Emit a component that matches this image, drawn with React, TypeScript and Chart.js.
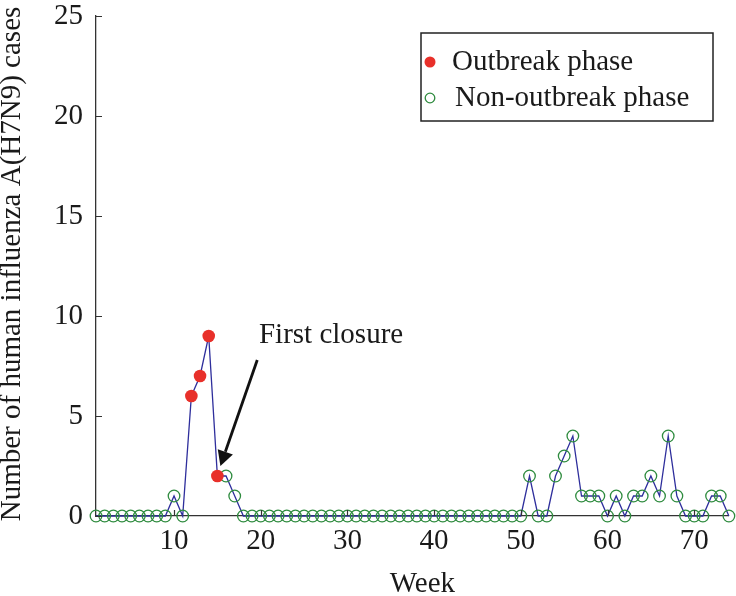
import React, { useEffect, useRef } from "react";
import { Chart, registerables } from "chart.js";

Chart.register(...registerables);

// ---- data ----
const weeks = [
  1, 2, 3, 4, 5, 6, 7, 8, 9, 10, 11, 12, 13, 14, 15, 16, 17, 18, 19, 20, 21, 22, 23, 24, 25,
  26, 27, 28, 29, 30, 31, 32, 33, 34, 35, 36, 37, 38, 39, 40, 41, 42, 43, 44, 45, 46, 47, 48, 49, 50,
  51, 52, 53, 54, 55, 56, 57, 58, 59, 60, 61, 62, 63, 64, 65, 66, 67, 68, 69, 70, 71, 72, 73, 74,
];
const cases = [
  0, 0, 0, 0, 0, 0, 0, 0, 0, 1, 0, 6, 7, 9, 2, 2, 1, 0, 0, 0, 0, 0, 0, 0, 0,
  0, 0, 0, 0, 0, 0, 0, 0, 0, 0, 0, 0, 0, 0, 0, 0, 0, 0, 0, 0, 0, 0, 0, 0, 0,
  2, 0, 0, 2, 3, 4, 1, 1, 1, 0, 1, 0, 1, 1, 2, 1, 4, 1, 0, 0, 0, 1, 1, 0,
];
const outbreakWeeks = [12, 13, 14, 15];
const xTickValues = [10, 20, 30, 40, 50, 60, 70];
const yTickValues = [0, 5, 10, 15, 20, 25];
const seriesNames = ["Outbreak phase", "Non-outbreak phase"];
const xTitle = "Week";
const yTitle = "Number of human influenza A(H7N9) cases";
const annotationText = "First closure";
const annotationLabelAt = { x: 19.8, y: 8.65 };
const annotationArrowFrom = { x: 19.6, y: 7.8 };
const annotationArrowTo = { x: 15.35, y: 2.5 };

const FONT = "'Liberation Serif', 'Times New Roman', serif";
const RED = "#e8302a";
const GREEN = "#2e8b3e";
const NAVY = "#2e2e9c";
const TEXT = "#1a1a1a";

const allPoints = weeks.map((w, i) => ({ x: w, y: cases[i] }));
const outbreakPoints = allPoints.filter((p) => outbreakWeeks.includes(p.x));
const nonOutbreakPoints = allPoints.filter((p) => !outbreakWeeks.includes(p.x));

const overlayPlugin = {
  id: "overlay",
  afterDraw(chart: any) {
    const ctx = chart.ctx as CanvasRenderingContext2D;
    const xs = chart.scales.x;
    const ys = chart.scales.y;
    const area = chart.chartArea;
    ctx.save();
    // inward tick marks
    ctx.strokeStyle = "#333";
    ctx.lineWidth = 1.2;
    ctx.beginPath();
    yTickValues.forEach((v) => {
      const py = Math.round(ys.getPixelForValue(v)) + 0.5;
      ctx.moveTo(area.left, py);
      ctx.lineTo(area.left + 6, py);
    });
    xTickValues.forEach((v) => {
      const px = Math.round(xs.getPixelForValue(v)) + 0.5;
      ctx.moveTo(px, area.bottom);
      ctx.lineTo(px, area.bottom - 6);
    });
    ctx.stroke();

    // axis titles
    ctx.fillStyle = TEXT;
    ctx.font = `29px ${FONT}`;
    ctx.textAlign = "center";
    ctx.textBaseline = "alphabetic";
    ctx.fillText(xTitle, (area.left + area.right) / 2 + 10, 592);
    ctx.save();
    ctx.translate(20, 264);
    ctx.rotate(-Math.PI / 2);
    ctx.fillText(yTitle, 0, 0);
    ctx.restore();

    // legend
    const lx = 421, ly = 33, lw = 292, lh = 88;
    ctx.strokeStyle = "#222";
    ctx.lineWidth = 1.5;
    ctx.strokeRect(lx, ly, lw, lh);
    ctx.beginPath();
    ctx.fillStyle = RED;
    ctx.arc(430, 62, 5.5, 0, Math.PI * 2);
    ctx.fill();
    ctx.beginPath();
    ctx.strokeStyle = GREEN;
    ctx.lineWidth = 1.3;
    ctx.arc(430, 98, 4.8, 0, Math.PI * 2);
    ctx.stroke();
    ctx.fillStyle = TEXT;
    ctx.textAlign = "left";
    ctx.fillText(seriesNames[0], 452, 70);
    ctx.fillText(seriesNames[1], 455, 106);

    // annotation
    ctx.fillText(
      annotationText,
      xs.getPixelForValue(annotationLabelAt.x),
      ys.getPixelForValue(annotationLabelAt.y)
    );
    const x1 = xs.getPixelForValue(annotationArrowFrom.x);
    const y1 = ys.getPixelForValue(annotationArrowFrom.y);
    const x2 = xs.getPixelForValue(annotationArrowTo.x);
    const y2 = ys.getPixelForValue(annotationArrowTo.y);
    const ang = Math.atan2(y2 - y1, x2 - x1);
    const headLen = 15, headW = 8;
    const bx = x2 - headLen * Math.cos(ang);
    const by = y2 - headLen * Math.sin(ang);
    ctx.strokeStyle = "#111";
    ctx.lineWidth = 2.8;
    ctx.beginPath();
    ctx.moveTo(x1, y1);
    ctx.lineTo(bx, by);
    ctx.stroke();
    ctx.fillStyle = "#111";
    ctx.beginPath();
    ctx.moveTo(x2, y2);
    ctx.lineTo(bx + headW * Math.sin(ang), by - headW * Math.cos(ang));
    ctx.lineTo(bx - headW * Math.sin(ang), by + headW * Math.cos(ang));
    ctx.closePath();
    ctx.fill();
    ctx.restore();
  },
};

export default function App() {
  const ref = useRef<HTMLCanvasElement>(null);
  useEffect(() => {
    document.body.style.margin = "0";
    const canvas = ref.current!;
    const chart = new Chart(canvas, {
      type: "scatter",
      data: {
        datasets: [
          {
            label: seriesNames[0],
            data: outbreakPoints,
            showLine: false,
            pointRadius: 6.3,
            pointBackgroundColor: RED,
            pointBorderColor: RED,
            pointBorderWidth: 0,
            clip: false,
          } as any,
          {
            label: seriesNames[1],
            data: nonOutbreakPoints,
            showLine: false,
            pointRadius: 5.8,
            pointBackgroundColor: "rgba(0,0,0,0)",
            pointBorderColor: GREEN,
            pointBorderWidth: 1.3,
            clip: false,
          } as any,
          {
            label: "line",
            data: allPoints,
            showLine: true,
            borderColor: NAVY,
            borderWidth: 1.3,
            pointRadius: 0,
            tension: 0,
            clip: false,
          } as any,
        ],
      },
      options: {
        animation: false,
        responsive: false,
        maintainAspectRatio: false,
        layout: { padding: { top: 16, right: 4, left: 0, bottom: 0 } },
        plugins: { legend: { display: false }, tooltip: { enabled: false } },
        events: [],
        scales: {
          x: {
            type: "linear",
            min: 1,
            max: 74,
            afterBuildTicks: (s: any) => {
              s.ticks = xTickValues.map((v) => ({ value: v }));
            },
            afterFit: (s: any) => {
              s.height = 80;
              s.paddingLeft = 0;
              s.paddingRight = 0;
              s.paddingTop = 0;
              s.paddingBottom = 0;
            },
            grid: { display: true, drawOnChartArea: false, drawTicks: false },
            border: { display: true, color: "#333", width: 1.3 },
            ticks: {
              padding: 11,
              color: TEXT,
              font: { family: FONT, size: 29, lineHeight: 1 },
              maxRotation: 0,
              autoSkip: false,
            },
          },
          y: {
            type: "linear",
            min: 0,
            max: 25,
            afterBuildTicks: (s: any) => {
              s.ticks = yTickValues.map((v) => ({ value: v }));
            },
            afterFit: (s: any) => {
              s.width = 96;
              s.paddingLeft = 0;
              s.paddingRight = 0;
              s.paddingTop = 0;
              s.paddingBottom = 0;
            },
            grid: { display: true, drawOnChartArea: false, drawTicks: false },
            border: { display: true, color: "#333", width: 1.3 },
            ticks: {
              padding: 13,
              color: TEXT,
              font: { family: FONT, size: 29, lineHeight: 1 },
            },
          },
        },
      },
      plugins: [overlayPlugin],
    });
    return () => chart.destroy();
  }, []);
  return <canvas ref={ref} width={736} height={596} style={{ display: "block" }} />;
}
